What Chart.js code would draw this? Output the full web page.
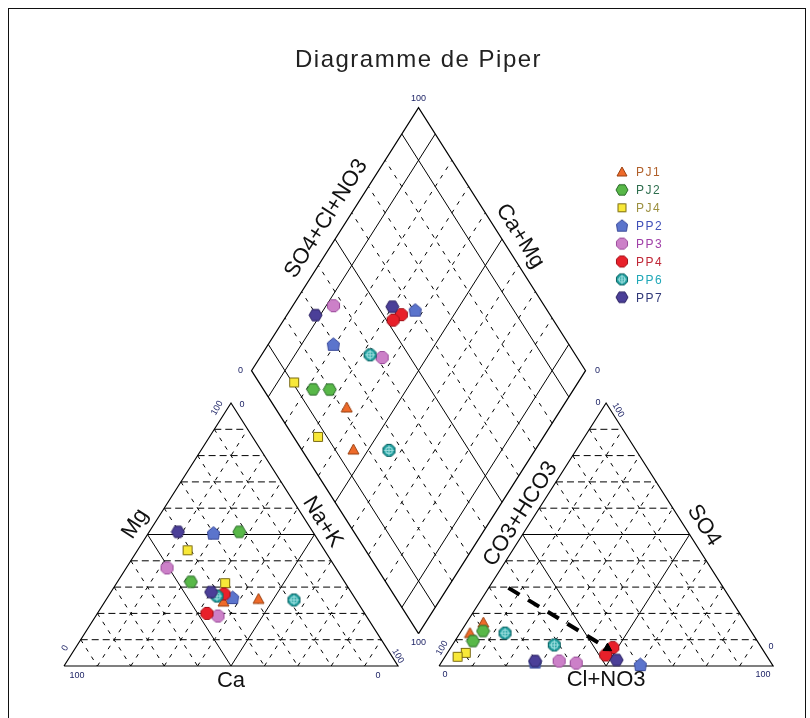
<!DOCTYPE html>
<html>
<head>
<meta charset="utf-8">
<title>Diagramme de Piper</title>
<script src="https://cdn.jsdelivr.net/npm/chart.js@4.4.1/dist/chart.umd.min.js"></script>
<style>
    html, body { margin: 0; padding: 0; background: #fff; }
    #wrap { position: relative; width: 810px; height: 718px; overflow: hidden; }
    #piper { position: absolute; left: 0; top: 0; }
    #frame { position: absolute; left: 8px; top: 8px; width: 798px; height: 730px; border: 1px solid #111; box-sizing: border-box; }
</style>
</head>
<body>
<div id="wrap">
    <canvas id="piper" width="810" height="718"></canvas>
    <div id="frame"></div>
</div>
<script>
// Piper diagram drawn with Chart.js

// Samples (two analyses per point series)
const seriesNames = ["PJ1", "PJ2", "PJ4", "PP2", "PP3", "PP4", "PP6", "PP7"];
const markerShape = ["triangle", "hexagon", "square", "pentagon", "octagon", "octagon", "crosshair", "hexagon"];
const markerFill = ["#EE6A2A", "#58B848", "#F8E838", "#5B74CC", "#CC80C8", "#E8202A", "#1F9E9E", "#4B3F98"];
const markerEdge = ["#9A4010", "#2A6A2A", "#7A6A10", "#3A4A9A", "#9A4A9A", "#A01018", "#0A6060", "#2A2060"];
const legendColor = ["#B0602A", "#2E6E4E", "#9C9040", "#4050B8", "#A040A8", "#C02838", "#20A8B8", "#303878"];

// Cations, % meq
const caVals = [[29, 40], [22, 46], [41, 36], [30, 36.5], [50.5, 44.4], [38.4, 47.2], [18.6, 40.9], [40.4, 41.9]];
const mgVals = [[25.5, 24.5], [51, 32], [44, 31.5], [50.5, 26], [37.3, 19], [27.4, 20], [25.1, 26.6], [51, 28.1]];
const naKVals = [[45.5, 35.5], [27, 22], [15, 32.5], [19.5, 37.5], [12.2, 36.6], [34.2, 32.8], [56.3, 32.5], [8.6, 30]];

// Anions, % meq
const hco3Vals = [[84.5, 78.5], [80.2, 85.1], [89.5, 92.7], [70.5, 39.5], [63.1, 58.4], [44.5, 48], [74, 61.5], [70.3, 45.7]];
const so4Vals = [[12.5, 16.5], [13.3, 9.5], [5, 3.5], [1.5, 0.5], [1.9, 1.1], [7, 4.2], [12.5, 8], [1.9, 2.3]];
const clVals = [[3, 5], [6.5, 5.4], [5.5, 3.8], [28, 60], [35, 40.5], [48.5, 47.8], [13.5, 30.5], [27.8, 52]];

// Trend arrow in the anion triangle (start, end)
const arrowHco3 = [64.4, 46.2];
const arrowSo4 = [29.7, 6.8];
const arrowCl = [5.9, 47];

// Grid
const gridSteps = [10, 20, 30, 40, 50, 60, 70, 80, 90];
const triSolid = [50];
const diamondSolid = [10, 50, 90];

// Geometry (triangle side = 1)
const GAP = 0.123;
const H = Math.sqrt(3) / 2;

function cat(ca, mg, nak) {
    return { x: (nak + mg / 2) / 100, y: (mg / 100) * H };
}
function an(hco3, so4, cl) {
    return { x: 1 + GAP + (cl + so4 / 2) / 100, y: (so4 / 100) * H };
}
// m = (Ca+Mg) fraction, s = (SO4+Cl) fraction
function dia(m, s) {
    return { x: 1 + GAP / 2 + (s - m) / 2, y: GAP * H + (s + m) * H };
}

// Grid line datasets
function lineSet(points, dash, width) {
    return {
        data: points,
        showLine: true,
        borderColor: "#000",
        borderWidth: width,
        borderDash: dash,
        pointRadius: 0,
        fill: false,
        order: 100,
    };
}

const gridSets = [];
function triangleGrid(f) {
    gridSteps.forEach((k) => {
        const solid = triSolid.includes(k);
        gridSets.push(lineSet([f(100 - k, k, 0), f(0, k, 100 - k)], solid ? [] : [7, 4], 1));
        gridSets.push(lineSet([f(100 - k, 0, k), f(0, 100 - k, k)], solid ? [] : [4, 6], 1));
        gridSets.push(lineSet([f(k, 100 - k, 0), f(k, 0, 100 - k)], solid ? [] : [4, 6], 1));
    });
    gridSets.push(lineSet([f(100, 0, 0), f(0, 0, 100), f(0, 100, 0), f(100, 0, 0)], [], 1.2));
}
triangleGrid(cat);
triangleGrid(an);

gridSteps.forEach((k) => {
    const solid = diamondSolid.includes(k);
    gridSets.push(lineSet([dia(k / 100, 0), dia(k / 100, 1)], solid ? [] : [4, 6], 1));
    gridSets.push(lineSet([dia(0, k / 100), dia(1, k / 100)], solid ? [] : [4, 6], 1));
});
gridSets.push(lineSet([dia(0, 0), dia(1, 0), dia(1, 1), dia(0, 1), dia(0, 0)], [], 1.2));

// Marker images
function makeMarker(shape, fill, edge, size) {
    const c = document.createElement("canvas");
    c.width = size;
    c.height = size;
    const g = c.getContext("2d");
    const m = size / 2;
    const r = size / 2 - 1;
    const poly = (n, rot) => {
        for (let i = 0; i < n; i++) {
            const a = rot + (i * 2 * Math.PI) / n;
            const x = m + r * Math.cos(a);
            const y = m + r * Math.sin(a);
            if (i) g.lineTo(x, y);
            else g.moveTo(x, y);
        }
        g.closePath();
    };
    g.beginPath();
    if (shape === "triangle") {
        g.moveTo(m, 1);
        g.lineTo(size - 1, size - 2);
        g.lineTo(1, size - 2);
        g.closePath();
    } else if (shape === "square") {
        g.rect(1.5, 1.5, size - 3, size - 3);
    } else if (shape === "pentagon") {
        g.moveTo(m, 1);
        g.lineTo(size - 1.5, m - 1.5);
        g.lineTo(size - 2.5, size - 1.5);
        g.lineTo(2.5, size - 1.5);
        g.lineTo(1.5, m - 1.5);
        g.closePath();
    } else if (shape === "hexagon") {
        poly(6, 0);
    } else {
        poly(8, Math.PI / 8);
    }
    g.fillStyle = fill;
    g.fill();
    g.lineWidth = 1;
    g.strokeStyle = edge;
    g.stroke();
    if (shape === "crosshair") {
        g.beginPath();
        g.moveTo(m, 2.5);
        g.lineTo(m, size - 2.5);
        g.moveTo(2.5, m);
        g.lineTo(size - 2.5, m);
        g.strokeStyle = "#9FE0E0";
        g.lineWidth = 1.2;
        g.stroke();
        g.beginPath();
        g.arc(m, m, r * 0.5, 0, 2 * Math.PI);
        g.stroke();
    }
    return c;
}

function markerSize(shape) {
    if (shape === "triangle") return 13;
    if (shape === "square") return 12;
    return 15;
}

const markers = seriesNames.map((n, i) => makeMarker(markerShape[i], markerFill[i], markerEdge[i], markerSize(markerShape[i])));
const legendMarkers = seriesNames.map((n, i) => makeMarker(markerShape[i], markerFill[i], markerEdge[i], markerSize(markerShape[i]) - 1));

// Point datasets: cation triangle, anion triangle, diamond
const pointSets = seriesNames.map((name, i) => {
    const pts = [];
    for (let j = 0; j < 2; j++) {
        pts.push(cat(caVals[i][j], mgVals[i][j], naKVals[i][j]));
        pts.push(an(hco3Vals[i][j], so4Vals[i][j], clVals[i][j]));
        pts.push(dia(1 - naKVals[i][j] / 100, 1 - hco3Vals[i][j] / 100));
    }
    return {
        label: name,
        data: pts,
        pointStyle: markers[i],
        pointRadius: 7,
        order: 20 - i,
    };
});

const arrowSet = {
    data: [an(arrowHco3[0], arrowSo4[0], arrowCl[0]), an(arrowHco3[1], arrowSo4[1], arrowCl[1])],
    showLine: true,
    borderColor: "#000",
    borderWidth: 4,
    borderDash: [13, 10],
    pointStyle: "triangle",
    pointRadius: [0, 5],
    pointBackgroundColor: "#000",
    pointBorderColor: "#000",
    pointBorderWidth: 1,
    pointRotation: (ctx) => {
        const ch = ctx.chart;
        const sx = ch.scales.x;
        const sy = ch.scales.y;
        if (!sx || !sy) return 0;
        const d = ctx.dataset.data;
        const dx = sx.getPixelForValue(d[1].x) - sx.getPixelForValue(d[0].x);
        const dy = sy.getPixelForValue(d[1].y) - sy.getPixelForValue(d[0].y);
        return (Math.atan2(dx, -dy) * 180) / Math.PI;
    },
    order: 0,
};

// Text: title, axis names, corner values, legend
const FONT = "'Liberation Sans', Arial, sans-serif";

const piperText = {
    id: "piperText",
    afterDraw(chart) {
        const ctx = chart.ctx;
        const sx = chart.scales.x;
        const sy = chart.scales.y;
        const px = (p) => ({ x: sx.getPixelForValue(p.x), y: sy.getPixelForValue(p.y) });

        const catBL = px(cat(100, 0, 0));
        const catBR = px(cat(0, 0, 100));
        const catTop = px(cat(0, 100, 0));
        const anBL = px(an(100, 0, 0));
        const anBR = px(an(0, 0, 100));
        const anTop = px(an(0, 100, 0));
        const dBottom = px(dia(0, 0));
        const dLeft = px(dia(1, 0));
        const dTop = px(dia(1, 1));
        const dRight = px(dia(0, 1));

        ctx.save();
        // Title
        ctx.fillStyle = "#222";
        ctx.font = "24px " + FONT;
        ctx.textAlign = "center";
        ctx.textBaseline = "middle";
        ctx.letterSpacing = "1.5px";
        ctx.fillText("Diagramme de Piper", dTop.x, 60);
        ctx.letterSpacing = "0px";

        // Axis names
        ctx.font = "22px " + FONT;
        ctx.fillStyle = "#111";
        const sideLabel = (a, b, t, off, text) => {
            const dx = b.x - a.x;
            const dy = b.y - a.y;
            const len = Math.hypot(dx, dy);
            const x = a.x + dx * t + (dy / len) * off;
            const y = a.y + dy * t - (dx / len) * off;
            ctx.save();
            ctx.translate(x, y);
            ctx.rotate(Math.atan2(dy, dx));
            ctx.fillText(text, 0, 0);
            ctx.restore();
        };
        sideLabel(catBL, catTop, 0.508, 16, "Mg");
        sideLabel(catTop, catBR, 0.48, 13.5, "Na+K");
        ctx.fillText("Ca", (catBL.x + catBR.x) / 2, catBL.y + 15);
        sideLabel(dLeft, dTop, 0.54, 18.4, "SO4+Cl+NO3");
        sideLabel(dTop, dRight, 0.523, 16.8, "Ca+Mg");
        sideLabel(anBL, anTop, 0.552, 12.7, "CO3+HCO3");
        sideLabel(anTop, anBR, 0.5, 16.9, "SO4");
        ctx.fillText("Cl+NO3", (anBL.x + anBR.x) / 2, anBL.y + 14);

        // Corner values
        ctx.font = "9px " + FONT;
        ctx.fillStyle = "#1E2466";
        const cornerText = [
            [catBL, 13, 10, "100", 0], [catBR, -20, 10, "0", 0],
            [catBL, 1, -18, "0", -60], [catBR, 0, -10, "100", 60],
            [catTop, -14, 5, "100", -60], [catTop, 11, 2, "0", 0],
            [anBL, 6, 9, "0", 0], [anBR, -10, 9, "100", 0],
            [anBL, 3, -18, "100", -60], [anBR, -2, -19, "0", 0],
            [anTop, -8, 0, "0", 0], [anTop, 12, 7, "100", 60],
            [dTop, 0, -9, "100", 0], [dLeft, -11, 0, "0", 0],
            [dRight, 12, 0, "0", 0], [dBottom, 0, 9, "100", 0],
        ];
        cornerText.forEach(([p, dx, dy, t, rot]) => {
            ctx.save();
            ctx.translate(p.x + dx, p.y + dy);
            ctx.rotate((rot * Math.PI) / 180);
            ctx.fillText(t, 0, 0);
            ctx.restore();
        });

        // Legend
        const legendX = 622;
        const legendY = 172;
        const legendStep = 17.9;
        ctx.font = "12px " + FONT;
        ctx.textAlign = "left";
        ctx.letterSpacing = "1.5px";
        seriesNames.forEach((name, i) => {
            const y = legendY + i * legendStep;
            const img = legendMarkers[i];
            ctx.drawImage(img, legendX - img.width / 2, y - img.height / 2);
            ctx.fillStyle = legendColor[i];
            ctx.fillText(name, legendX + 14, y + 1);
        });
        ctx.letterSpacing = "0px";
        ctx.restore();
    },
};

// Axis ranges chosen so 1 unit of side = 334 px across and the triangle height = 263 px
const xMin = -64 / 334;
const xMax = (810 - 64) / 334;
const yMin = -(718 - 666) / (263 / H);
const yMax = 666 / (263 / H);

new Chart(document.getElementById("piper"), {
    type: "scatter",
    data: { datasets: [arrowSet, ...pointSets, ...gridSets] },
    options: {
        responsive: false,
        animation: false,
        events: [],
        layout: { padding: 0, autoPadding: false },
        scales: {
            x: { type: "linear", min: xMin, max: xMax, display: false },
            y: { type: "linear", min: yMin, max: yMax, display: false },
        },
        plugins: {
            legend: { display: false },
            tooltip: { enabled: false },
        },
    },
    plugins: [piperText],
});
</script>
</body>
</html>
